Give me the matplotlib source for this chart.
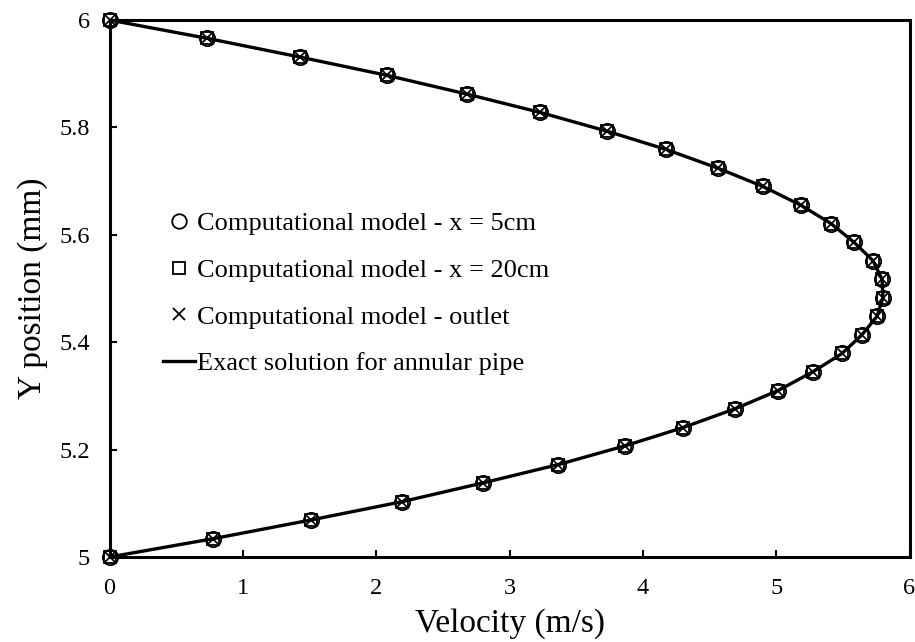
import matplotlib
matplotlib.use("Agg")
import matplotlib.pyplot as plt

plt.rcParams['font.family'] = ['Liberation Serif', 'DejaVu Serif']

# Y positions (mm), bottom to top
y_pos = [5.000, 5.034, 5.069, 5.103, 5.138, 5.172, 5.207, 5.241, 5.276, 5.310,
         5.345, 5.379, 5.414, 5.448, 5.483, 5.517, 5.552, 5.586, 5.621, 5.655,
         5.690, 5.724, 5.759, 5.793, 5.828, 5.862, 5.897, 5.931, 5.966, 6.000]

# Velocities (m/s)
v_5cm = [0.000, 0.776, 1.511, 2.194, 2.801, 3.364, 3.866, 4.301, 4.691, 5.014,
         5.276, 5.494, 5.644, 5.756, 5.801, 5.794, 5.726, 5.584, 5.411, 5.186,
         4.901, 4.564, 4.174, 3.731, 3.229, 2.681, 2.081, 1.429, 0.731, 0.000]
v_20cm = [0.000, 0.776, 1.511, 2.194, 2.801, 3.364, 3.866, 4.301, 4.691, 5.014,
          5.276, 5.494, 5.644, 5.756, 5.801, 5.794, 5.726, 5.584, 5.411, 5.186,
          4.901, 4.564, 4.174, 3.731, 3.229, 2.681, 2.081, 1.429, 0.731, 0.000]
v_outlet = [0.000, 0.776, 1.511, 2.194, 2.801, 3.364, 3.866, 4.301, 4.691, 5.014,
            5.276, 5.494, 5.644, 5.756, 5.801, 5.794, 5.726, 5.584, 5.411, 5.186,
            4.901, 4.564, 4.174, 3.731, 3.229, 2.681, 2.081, 1.429, 0.731, 0.000]
v_exact = [0.000, 0.776, 1.511, 2.194, 2.801, 3.364, 3.866, 4.301, 4.691, 5.014,
           5.276, 5.494, 5.644, 5.756, 5.801, 5.794, 5.726, 5.584, 5.411, 5.186,
           4.901, 4.564, 4.174, 3.731, 3.229, 2.681, 2.081, 1.429, 0.731, 0.000]

x_ticks = [0, 1, 2, 3, 4, 5, 6]
y_ticks = [5, 5.2, 5.4, 5.6, 5.8, 6]
y_tick_labels = ['5', '5.2', '5.4', '5.6', '5.8', '6']

fig = plt.figure(figsize=(9.15, 6.42), dpi=100)
ax = fig.add_axes([0.1197, 0.1324, 0.8743, 0.8364])

ax.plot(v_5cm, y_pos, linestyle='none', marker='o', ms=11, mfc='none', mec='black',
        mew=1.3, clip_on=False, label='Computational model - x = 5cm')
ax.plot(v_20cm, y_pos, linestyle='none', marker='s', ms=8.5, mfc='none', mec='black',
        mew=1.3, clip_on=False, label='Computational model - x = 20cm')
ax.plot(v_outlet, y_pos, linestyle='none', marker='x', ms=8.5, mec='black',
        mew=1.3, clip_on=False, label='Computational model - outlet')
ax.plot(v_exact, y_pos, color='black', lw=2.4, label='Exact solution for annular pipe')

ax.set_xlim(0, 6)
ax.set_ylim(5, 6)
ax.set_xticks(x_ticks)
ax.set_yticks(y_ticks)
ax.set_yticklabels(y_tick_labels)
ax.tick_params(direction='in', length=5, width=1.5, labelsize=17.5, pad=14, colors='black')
ax.tick_params(axis='x', pad=15)
for s in ax.spines.values():
    s.set_linewidth(2.2)

ax.set_xlabel('Velocity (m/s)', fontsize=24, labelpad=7)
ax.set_ylabel('Y position (mm)', fontsize=24, labelpad=8)

handles, labels = ax.get_legend_handles_labels()
leg = ax.legend(handles, labels, loc='upper left', bbox_to_anchor=(0.067, 0.643), frameon=False,
                fontsize=19, handlelength=1.2, handletextpad=0.1,
                labelspacing=0.88, borderpad=0, borderaxespad=0, markerscale=0.95)

fig.savefig('out.png', dpi=100)
